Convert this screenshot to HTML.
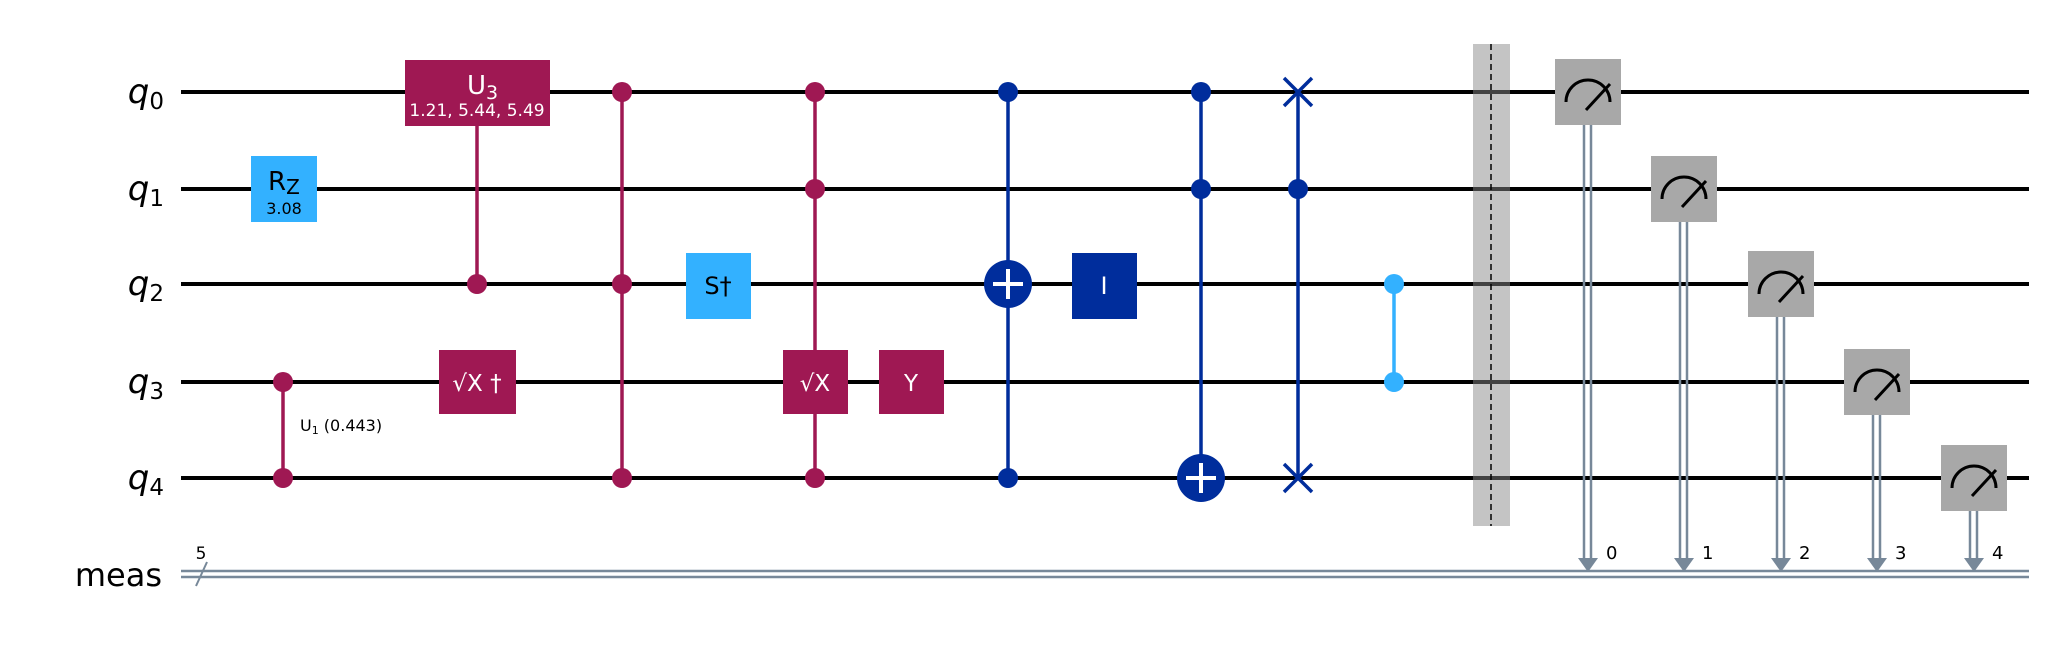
<!DOCTYPE html>
<html><head><meta charset="utf-8"><style>
html,body{margin:0;padding:0;background:#fff;width:2052px;height:648px;overflow:hidden}
svg{display:block;font-family:"DejaVu Sans","Liberation Sans",sans-serif}
</style></head><body>
<svg id="c" width="2052" height="648" viewBox="0 0 2052 648" xmlns="http://www.w3.org/2000/svg">
</svg>
<script>
const qubitY = [92, 189, 284, 382, 478];
const qubitLabels = ['0','1','2','3','4'];
const measY = 574;
const wireStart = 181, wireEnd = 2029;
const PURPLE='#9f1853', LBLUE='#33b1ff', DBLUE='#002d9c', GRAY='#a8a8a8', CLS='#778899';
const measX = [1588, 1684, 1781, 1877, 1974];
const svg = document.getElementById('c');
const NS='http://www.w3.org/2000/svg';
function el(tag, attrs, parent){const e=document.createElementNS(NS,tag);for(const k in attrs)e.setAttribute(k,attrs[k]);(parent||svg).appendChild(e);return e;}
function txt(x,y,s,attrs){const e=el('text',Object.assign({x:x,y:y},attrs));e.textContent=s;return e;}

// barrier (behind wires)
el('rect',{x:1473,y:44,width:37,height:482,fill:'#c8c8c8',});

// wires
qubitY.forEach((y,i)=>{
  const w=el('line',{x1:wireStart,y1:y,x2:wireEnd,y2:y,stroke:'#000','stroke-width':4});
  
  
  const t=el('text',{x:164,y:y+11,'text-anchor':'end','font-size':34,'font-style':'italic',fill:'#000'});
  
  
  t.textContent='q';
  const s=el('tspan',{'font-size':23,'font-style':'normal',dy:6},t);s.textContent=qubitLabels[i];
});
el('rect',{x:1473,y:44,width:37,height:482,fill:'#bdbdbd',opacity:0.35,});
el('line',{x1:1491,y1:44,x2:1491,y2:526,stroke:'#000','stroke-width':1.5,'stroke-dasharray':'6,4',});

// classical wire
el('line',{x1:wireStart,y1:measY-3,x2:wireEnd,y2:measY-3,stroke:CLS,'stroke-width':2.5,});
el('line',{x1:wireStart,y1:measY+3,x2:wireEnd,y2:measY+3,stroke:CLS,'stroke-width':2.5,});
el('line',{x1:196,y1:586,x2:207,y2:562,stroke:CLS,'stroke-width':2,});
txt(201,559,'5',{'font-size':17,'text-anchor':'middle',});
txt(162,586,'meas',{'font-size':32,'text-anchor':'end',});

function box(x1,y1,x2,y2,fill,name){return el('rect',{x:x1,y:y1,width:x2-x1,height:y2-y1,fill:fill,});}
function vline(x,y1,y2,col,name){return el('line',{x1:x,y1:y1,x2:x,y2:y2,stroke:col,'stroke-width':3.5,});}
function dot(x,y,col,name){return el('circle',{cx:x,cy:y,r:10,fill:col,});}

// Rz
box(251,156,317,222,LBLUE,'rz-gate');
const rz=txt(268,190,'R',{'font-size':26,fill:'#000',});
rz.innerHTML='R<tspan font-size="20" dy="4">Z</tspan>';
txt(284,214,'3.08',{'font-size':16,'text-anchor':'middle',fill:'#000',});

// CU1 q3-q4
vline(283,qubitY[3],qubitY[4],PURPLE,'cu1-line');
dot(283,qubitY[3],PURPLE,'cu1-dot-q3');dot(283,qubitY[4],PURPLE,'cu1-dot-q4');
const u1=txt(300,431,'U',{'font-size':16,fill:'#000',});
u1.innerHTML='U<tspan font-size="11" dy="3">1</tspan><tspan dy="-3"> (0.443)</tspan>';

// CU3
vline(477,110,qubitY[2],PURPLE,'cu3-line');
dot(477,qubitY[2],PURPLE,'cu3-control');
box(405,60,550,126,PURPLE,'u3-gate');
const u3=txt(467,94,'U',{'font-size':26,fill:'#fff',});
u3.innerHTML='U<tspan font-size="19" dy="5">3</tspan>';
txt(477,116,'1.21, 5.44, 5.49',{'font-size':17,'text-anchor':'middle',fill:'#fff',});

// sqrt X dagger
box(439,350,516,414,PURPLE,'sxdg-gate');
txt(477,391,'√X †',{'font-size':23,'text-anchor':'middle',fill:'#fff',});

// CCZ-like
vline(622,qubitY[0],qubitY[4],PURPLE,'ccz-line');
[0,2,4].forEach(i=>dot(622,qubitY[i],PURPLE,'ccz-dot-q'+i));

// S dagger
box(686,253,751,319,LBLUE,'sdg-gate');
txt(718,294,'S†',{'font-size':24,'text-anchor':'middle',fill:'#000',});

// CC sqrtX
vline(815,qubitY[0],qubitY[4],PURPLE,'ccsx-line');
[0,1,4].forEach(i=>dot(815,qubitY[i],PURPLE,'ccsx-dot-q'+i));
box(783,350,848,414,PURPLE,'csx-gate');
txt(815,391,'√X',{'font-size':23,'text-anchor':'middle',fill:'#fff',});

// Y
box(879,350,944,414,PURPLE,'y-gate');
txt(911,391,'Y',{'font-size':23,'text-anchor':'middle',fill:'#fff',});

// CX
vline(1008,qubitY[0],qubitY[4],DBLUE,'cx-line');
dot(1008,qubitY[0],DBLUE,'cx-control-q0');dot(1008,qubitY[4],DBLUE,'cx-control-q4');
function target(x,y,name){
  el('circle',{cx:x,cy:y,r:24,fill:DBLUE,});
  el('line',{x1:x-15,y1:y,x2:x+15,y2:y,stroke:'#fff','stroke-width':4});
  el('line',{x1:x,y1:y-15,x2:x,y2:y+15,stroke:'#fff','stroke-width':4});
}
target(1008,qubitY[2],'cx-target');

// I
box(1072,253,1137,319,DBLUE,'id-gate');
txt(1104,294,'I',{'font-size':24,'text-anchor':'middle',fill:'#fff',});

// CCX
vline(1201,qubitY[0],qubitY[4],DBLUE,'ccx-line');
dot(1201,qubitY[0],DBLUE,'ccx-control-q0');dot(1201,qubitY[1],DBLUE,'ccx-control-q1');
target(1201,qubitY[4],'ccx-target');

// CSWAP
vline(1298,qubitY[0],qubitY[4],DBLUE,'cswap-line');
dot(1298,qubitY[1],DBLUE,'cswap-control');
[0,4].forEach(i=>{const y=qubitY[i];
  el('path',{d:`M${1284} ${y-14}L${1312} ${y+14}M${1312} ${y-14}L${1284} ${y+14}`,stroke:DBLUE,'stroke-width':3.5,fill:'none',});});

// CZ
el('line',{x1:1394,y1:qubitY[2],x2:1394,y2:qubitY[3],stroke:LBLUE,'stroke-width':3.5,});
dot(1394,qubitY[2],LBLUE,'cz-dot-q2');dot(1394,qubitY[3],LBLUE,'cz-dot-q3');

// measurements
measX.forEach((x,i)=>{
  const y=qubitY[i];
  el('line',{x1:x-4,y1:y+33,x2:x-4,y2:measY-14,stroke:CLS,'stroke-width':2.5});
  el('line',{x1:x+3,y1:y+33,x2:x+3,y2:measY-14,stroke:CLS,'stroke-width':2.5});
  el('path',{d:`M${x-10} ${measY-16}L${x+10} ${measY-16}L${x} ${measY-2}Z`,fill:CLS,});
  const b=el('rect',{x:x-33,y:y-33,width:66,height:66,fill:GRAY});
  
  
  el('path',{d:`M${x-22} ${y+10}A22 22 0 0 1 ${x+22} ${y+10}`,stroke:'#000','stroke-width':3,fill:'none'});
  el('line',{x1:x-2,y1:y+18,x2:x+22,y2:y-8,stroke:'#000','stroke-width':3});
  const t=txt(x+18,559,qubitLabels[i],{'font-size':18,fill:'#000'});
  
  
});
</script>
</body></html>
